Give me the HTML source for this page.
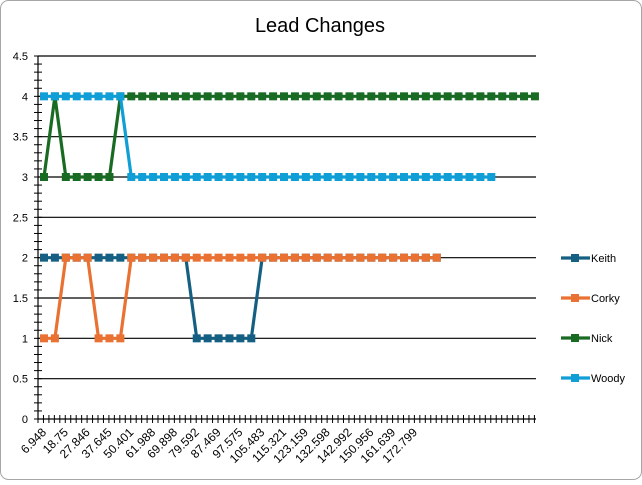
<!DOCTYPE html>
<html><head><meta charset="utf-8"><style>
body{margin:0;background:#fff;}
svg{font-family:"Liberation Sans",sans-serif;}
</style></head><body>
<svg id="chart" width="642" height="480" xmlns="http://www.w3.org/2000/svg">
<rect x="0.5" y="0.5" width="641" height="479" rx="8" fill="#fff" stroke="#a6a6a6"/>
<text x="320" y="32" text-anchor="middle" font-size="20" fill="#000">Lead Changes</text>
<g id="grid"></g><g id="axes"></g><g id="series"></g><g id="legend"></g>
</svg>
<script>
const xLabels=["6.948","18.75","27.846","37.645","50.401","61.988","69.898","79.592","87.469","97.575","105.483","115.321","123.159","132.598","142.992","150.956","161.639","172.799"];
const yTicks=[0,0.5,1,1.5,2,2.5,3,3.5,4,4.5];
const seriesNames=["Keith","Corky","Nick","Woody"];
const keith=[2,2,2,2,2,2,2,2,2,2,2,2,2,2,1,1,1,1,1,1,2,2,2,2,2,2,2,2,2,2,2,2,2,2,2,2,2];
const corky=[1,1,2,2,2,1,1,1,2,2,2,2,2,2,2,2,2,2,2,2,2,2,2,2,2,2,2,2,2,2,2,2,2,2,2,2,2];
const nick=[3,4,3,3,3,3,3,4,4,4,4,4,4,4,4,4,4,4,4,4,4,4,4,4,4,4,4,4,4,4,4,4,4,4,4,4,4,4,4,4,4,4,4,4,4,4];
const woody=[4,4,4,4,4,4,4,4,3,3,3,3,3,3,3,3,3,3,3,3,3,3,3,3,3,3,3,3,3,3,3,3,3,3,3,3,3,3,3,3,3,3];
const colors=["#156082","#e97132","#196b24","#0f9ed5"];
const NS="http://www.w3.org/2000/svg";
const L=38,R=536,T=56,B=419,X0=44,DX=10.91;
function x(i){return X0+DX*i;}
function y(v){return B-(v/4.5)*(B-T);}
function mk(tag,attrs,parent){const e=document.createElementNS(NS,tag);for(const k in attrs)e.setAttribute(k,attrs[k]);parent.appendChild(e);return e;}
const grid=document.getElementById('grid'),axes=document.getElementById('axes'),ser=document.getElementById('series'),leg=document.getElementById('legend');
yTicks.forEach(v=>{
  if(v>0){const g=mk('line',{x1:L,x2:R,y1:y(v),y2:y(v),stroke:'#000','stroke-width':1.2},grid);
  
  }
  const t=mk('text',{x:28,y:y(v)+4,'text-anchor':'end','font-size':11,fill:'#000'},axes);
  t.textContent=v;
  
  
});
for(let v=0;v<=45;v++){const yy=y(v/10);mk('line',{x1:L-4,x2:L+4,y1:yy,y2:yy,stroke:'#000','stroke-width':1},axes);}
const ya=mk('line',{x1:L,x2:L,y1:T,y2:B,stroke:'#000','stroke-width':1.2},axes);


const xa=mk('line',{x1:L,x2:R,y1:B,y2:B,stroke:'#000','stroke-width':1.2},axes);


for(let xx=L;xx<=R+0.5;xx+=DX/2){mk('line',{x1:xx,x2:xx,y1:B-4,y2:B+4,stroke:'#000','stroke-width':1},axes);}
xLabels.forEach((s,k)=>{
  const px=x(2*k)+3,py=B+14;
  const t=mk('text',{x:px,y:py,'text-anchor':'end','font-size':12,fill:'#000',transform:`rotate(-45 ${px} ${py})`},axes);
  t.textContent=s;
  
  
});
[keith,corky,nick,woody].forEach((arr,si)=>{
  const g=mk('g',{},ser);
  
  
  mk('polyline',{points:arr.map((v,i)=>x(i)+','+y(v)).join(' '),fill:'none',stroke:colors[si],'stroke-width':3.2,'stroke-linejoin':'round'},g);
  arr.forEach((v,i)=>{const m=mk('rect',{x:x(i)-4,y:y(v)-4,width:8,height:8,fill:colors[si]},g);
  
  });
});
seriesNames.forEach((n,i)=>{
  const yy=258+i*40;
  const g=mk('g',{},leg);
  
  
  mk('line',{x1:561,x2:590,y1:yy,y2:yy,stroke:colors[i],'stroke-width':3.2},g);
  mk('rect',{x:571,y:yy-4,width:8,height:8,fill:colors[i]},g);
  const t=mk('text',{x:591,y:yy+4,'font-size':11,fill:'#000'},g);t.textContent=n;
});
</script>
</body></html>
